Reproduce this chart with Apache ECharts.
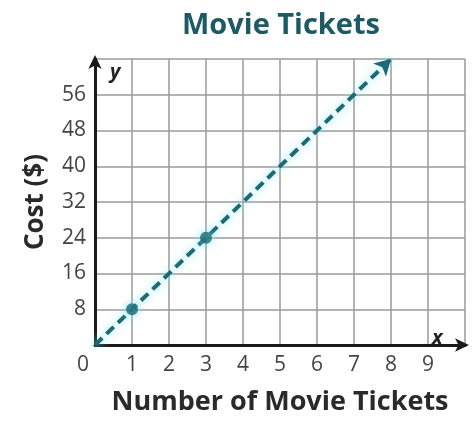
<!DOCTYPE html>
<html>
<head>
<meta charset="utf-8">
<script src="https://cdn.jsdelivr.net/npm/echarts@6/dist/echarts.min.js"></script>
<style>
  html, body { margin: 0; padding: 0; background: #fff; }
  #chart { width: 472px; height: 421px; }
</style>
</head>
<body>
<div id="chart"></div>
<script>
// 数据
const tickets = [1, 3];          // 标出的点 x
const costs = [8, 24];           // 标出的点 y
const lineStart = [0, 0];
const lineEnd = [8, 64];         // 箭头终点
const xTicks = [0, 1, 2, 3, 4, 5, 6, 7, 8, 9];
const yTicks = [8, 16, 24, 32, 40, 48, 56];

const teal = '#1c6a76';
const glow = '#7fe3ee';

let myChart = echarts.init(document.getElementById('chart'));

myChart.setOption({
    animation: false,
    title: {
        text: 'Movie Tickets',
        left: 276,
        top: 6,
        textAlign: 'center',
        textStyle: {color: '#1e5a63', fontSize: 29, fontWeight: 'bold', fontFamily: 'Open Sans'}
    },
    grid: {left: 95, right: 7, top: 59, bottom: 64},
    xAxis: {
        type: 'value',
        min: 0,
        max: 10,
        interval: 1,
        name: 'Number of Movie Tickets',
        nameLocation: 'middle',
        nameGap: 44,
        nameTextStyle: {color: '#2a2a2a', fontSize: 27, fontWeight: 'bold', fontFamily: 'Open Sans'},
        axisLine: {lineStyle: {color: '#1a1a1a', width: 3}, symbol: ['none', 'arrow'], symbolSize: [10, 14], symbolOffset: [0, 4]},
        axisTick: {show: false},
        splitLine: {show: true, lineStyle: {color: '#9a9a9a', width: 1.5}},
        axisLabel: {
            color: '#444',
            fontSize: 21,
            fontFamily: 'Open Sans',
            margin: 10,
            formatter: v => xTicks.includes(v) ? (v === 0 ? '{o|0}' : String(v)) : '',
            rich: {o: {fontSize: 21, color: '#444', fontFamily: 'Open Sans', padding: [0, 24, 0, 0]}}
        }
    },
    yAxis: {
        type: 'value',
        min: 0,
        max: 64,
        interval: 8,
        name: 'Cost ($)',
        nameLocation: 'middle',
        nameGap: 46,
        nameTextStyle: {color: '#2a2a2a', fontSize: 26, fontWeight: 'bold', fontFamily: 'Open Sans'},
        axisLine: {show: true, lineStyle: {color: '#1a1a1a', width: 3}, symbol: ['none', 'arrow'], symbolSize: [10, 14], symbolOffset: [0, 4]},
        axisTick: {show: false},
        splitLine: {show: true, lineStyle: {color: '#9a9a9a', width: 1.5}},
        axisLabel: {
            color: '#444',
            fontSize: 21,
            fontFamily: 'Open Sans',
            margin: 9,
            formatter: v => yTicks.includes(v) ? String(v) : ''
        }
    },
    graphic: [
        {type: 'text', left: 110, top: 62, style: {text: 'y', fontSize: 20, fontStyle: 'italic', fontWeight: 'bold', fill: '#222', fontFamily: 'Open Sans'}},
        {type: 'text', left: 432, top: 328, style: {text: 'x', fontSize: 20, fontStyle: 'italic', fontWeight: 'bold', fill: '#222', fontFamily: 'Open Sans'}}
    ],
    series: [{
        type: 'scatter',
        data: tickets.map((t, i) => [t, costs[i]]),
        symbolSize: 12,
        z: 5,
        itemStyle: {color: teal, shadowBlur: 8, shadowColor: glow},
        markLine: {
            silent: true,
            symbol: ['none', 'arrow'],
            symbolSize: [14, 16],
            label: {show: false},
            lineStyle: {color: teal, width: 4, type: [10, 6], shadowBlur: 8, shadowColor: glow},
            data: [[{coord: lineStart}, {coord: lineEnd}]]
        }
    }]
});
</script>
</body>
</html>
